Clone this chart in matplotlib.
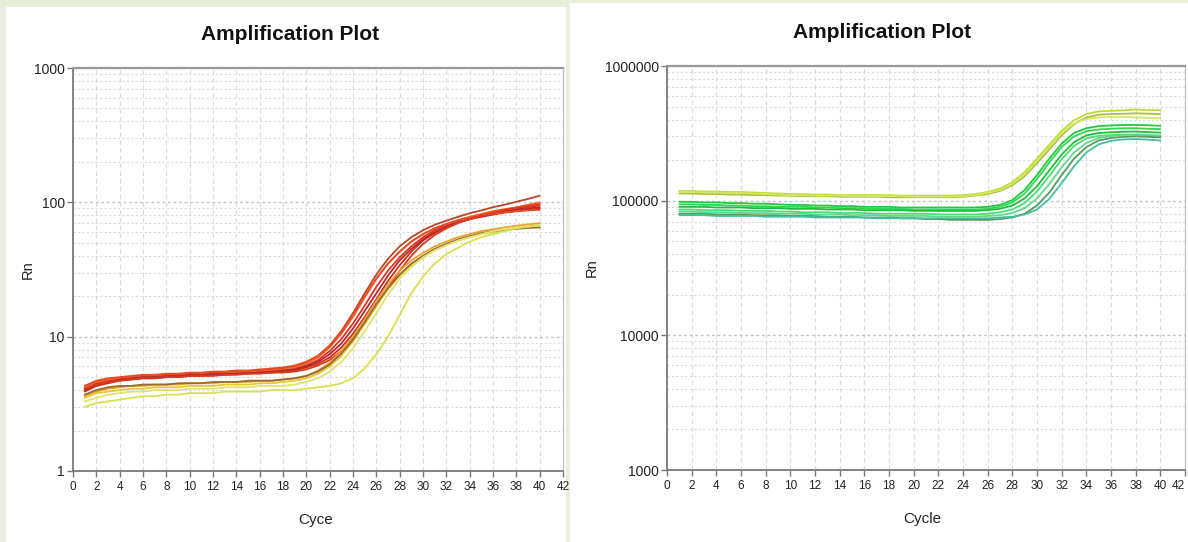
import matplotlib
matplotlib.use("Agg")
import matplotlib.pyplot as plt
from matplotlib.patches import Rectangle
from matplotlib.ticker import FixedLocator, NullFormatter, LogLocator

plt.rcParams['font.family'] = ['Liberation Sans', 'DejaVu Sans']

CYCLES = list(range(1, 41))

# ---------------- left panel (red / orange / yellow) ----------------
LEFT_COLORS = ['#b5462a', '#e03020', '#f06a28', '#d42a1c', '#b52a2a', '#e84a25',
               '#da3b1f', '#f0a030', '#e8c830', '#9a6a30', '#e0e46a', '#d8e050']
L1 = [4.3,4.6,4.8,4.9,5.0,5.1,5.1,5.2,5.2,5.3,5.3,5.4,5.4,5.5,5.5,5.6,5.7,5.8,6.0,6.4,7.2,8.6,11.0,15.0,21.0,29.0,38.0,47.0,55.0,62.0,68.0,73.0,78.0,83.0,87.0,92.0,96.0,101.0,106.0,112.0]
L2 = [4.1,4.5,4.7,4.8,4.9,5.0,5.0,5.1,5.1,5.2,5.2,5.3,5.3,5.4,5.4,5.5,5.5,5.6,5.8,6.1,6.7,7.8,9.6,12.5,17.0,23.5,31.0,39.0,47.0,55.0,62.0,68.0,73.0,77.0,80.0,83.0,86.0,89.0,92.0,95.0]
L3 = [4.2,4.6,4.8,4.9,5.0,5.0,5.1,5.1,5.2,5.2,5.3,5.3,5.4,5.4,5.5,5.5,5.6,5.7,5.9,6.3,7.0,8.3,10.5,14.0,19.5,27.0,35.0,43.0,51.0,58.0,64.0,69.0,74.0,78.0,82.0,86.0,89.0,92.0,96.0,100.0]
L4 = [3.9,4.3,4.5,4.7,4.8,4.9,4.9,5.0,5.0,5.1,5.1,5.2,5.2,5.3,5.3,5.4,5.4,5.5,5.6,5.9,6.3,7.0,8.3,10.5,14.0,19.0,26.0,34.0,43.0,52.0,59.0,66.0,71.0,75.0,78.0,81.0,84.0,86.0,88.0,90.0]
L5 = [4.0,4.4,4.6,4.8,4.9,5.0,5.0,5.1,5.1,5.2,5.2,5.3,5.3,5.3,5.4,5.4,5.5,5.6,5.7,6.0,6.5,7.4,8.9,11.5,15.5,21.0,28.5,37.0,45.0,53.0,60.0,66.0,71.0,75.0,79.0,82.0,85.0,88.0,90.0,92.0]
L6 = [4.3,4.7,4.9,5.0,5.1,5.2,5.2,5.3,5.3,5.4,5.4,5.5,5.5,5.6,5.6,5.7,5.8,5.9,6.1,6.5,7.2,8.5,10.8,14.5,20.0,27.0,35.0,43.0,51.0,58.0,64.0,69.0,73.0,77.0,80.0,82.0,84.0,86.0,87.0,88.0]
L7 = [4.1,4.4,4.6,4.7,4.8,4.9,4.9,5.0,5.0,5.1,5.1,5.1,5.2,5.2,5.3,5.3,5.4,5.4,5.5,5.7,6.1,6.7,7.8,9.6,12.5,17.0,23.0,31.0,40.0,49.0,57.0,64.0,70.0,75.0,80.0,84.0,88.0,91.0,94.0,97.0]
L8 = [3.6,3.9,4.1,4.2,4.3,4.3,4.4,4.4,4.4,4.5,4.5,4.5,4.6,4.6,4.6,4.7,4.7,4.8,4.9,5.1,5.6,6.4,7.8,10.0,13.5,18.5,24.5,31.0,37.0,42.0,47.0,51.0,55.0,58.0,61.0,63.0,65.0,67.0,68.5,70.0]
L9 = [3.5,3.8,3.9,4.0,4.1,4.1,4.2,4.2,4.2,4.3,4.3,4.3,4.4,4.4,4.4,4.5,4.5,4.6,4.7,4.9,5.3,6.0,7.2,9.2,12.5,17.0,22.5,28.5,34.0,39.0,44.0,48.0,52.0,55.0,58.0,60.0,62.0,64.0,65.0,66.0]
L10 = [3.7,4.0,4.2,4.3,4.3,4.4,4.4,4.4,4.5,4.5,4.5,4.6,4.6,4.6,4.7,4.7,4.7,4.8,4.9,5.1,5.5,6.2,7.5,9.5,12.8,17.5,23.0,29.0,35.0,40.0,45.0,49.0,53.0,56.0,59.0,61.0,62.5,63.5,64.5,65.0]
L11 = [3.3,3.5,3.7,3.8,3.9,3.9,4.0,4.0,4.0,4.1,4.1,4.1,4.2,4.2,4.2,4.3,4.3,4.3,4.4,4.6,4.9,5.5,6.5,8.2,11.0,15.0,20.5,27.0,33.0,39.0,44.0,48.0,52.0,55.0,58.0,61.0,63.0,65.0,66.0,67.0]
L12 = [3.0,3.2,3.3,3.4,3.5,3.6,3.6,3.7,3.7,3.8,3.8,3.8,3.9,3.9,3.9,3.9,4.0,4.0,4.0,4.1,4.2,4.3,4.5,4.9,5.8,7.4,10.0,14.5,21.0,28.0,35.0,41.0,46.0,51.0,55.0,58.0,61.0,64.0,66.0,68.0]
LEFT_SERIES = [L1, L2, L3, L4, L5, L6, L7, L8, L9, L10, L11, L12]

# ---------------- right panel (yellow-green / green / teal) ----------------
RIGHT_COLORS = ['#c5d83a', '#a8c03a', '#d0e860', '#22c840', '#30d850', '#1ebe3c',
                '#45e070', '#5a9a5a', '#40c0a0', '#60d890']
R1 = [118000,118000,117000,117000,116000,116000,115000,114000,113000,112000,112000,111000,111000,110000,110000,110000,110000,110000,109000,109000,109000,109000,109000,110000,112000,116000,123000,137000,163000,205000,260000,330000,395000,440000,460000,465000,468000,475000,470000,470000]
R2 = [113000,113000,112000,112000,111000,111000,110000,110000,109000,109000,108000,108000,108000,107000,107000,107000,107000,106000,106000,106000,106000,106000,106000,107000,109000,112000,118000,130000,152000,190000,240000,305000,370000,415000,435000,440000,442000,445000,443000,440000]
R3 = [116000,116000,115000,115000,114000,114000,113000,112000,111000,110000,110000,109000,109000,109000,108000,108000,108000,108000,108000,107000,107000,107000,107000,108000,110000,114000,120000,133000,157000,197000,250000,315000,375000,405000,415000,418000,420000,415000,412000,410000]
R4 = [98000,98000,97000,97000,96000,96000,95000,95000,94000,93000,93000,92000,92000,91000,91000,90000,90000,90000,89000,89000,89000,89000,89000,89000,89000,90000,93000,101000,120000,155000,205000,265000,318000,345000,358000,362000,365000,365000,363000,360000]
R5 = [94000,94000,93000,93000,92000,92000,91000,91000,90000,90000,90000,89000,89000,88000,88000,88000,87000,87000,87000,86000,86000,86000,86000,86000,86000,87000,90000,97000,113000,145000,192000,250000,300000,328000,338000,342000,345000,345000,342000,340000]
R6 = [90000,90000,90000,89000,89000,89000,88000,88000,88000,87000,87000,87000,86000,86000,86000,85000,85000,85000,85000,84000,84000,84000,84000,84000,84000,85000,87000,92000,104000,128000,168000,220000,272000,305000,318000,322000,325000,326000,323000,320000]
R7 = [86000,86000,85000,85000,85000,84000,84000,84000,83000,83000,82000,82000,82000,81000,81000,81000,80000,80000,80000,80000,80000,79000,79000,79000,79000,80000,82000,86000,96000,117000,153000,203000,255000,290000,303000,307000,310000,308000,304000,300000]
R8 = [80000,80000,80000,79000,79000,79000,78000,78000,78000,77000,77000,77000,76000,76000,76000,75000,75000,75000,74000,74000,73000,73000,72000,72000,72000,72000,73000,75000,80000,92000,115000,155000,205000,250000,280000,292000,298000,300000,298000,295000]
R9 = [78000,78000,78000,77000,77000,77000,77000,76000,76000,76000,76000,75000,75000,75000,75000,75000,74000,74000,74000,74000,74000,74000,74000,74000,74000,74000,75000,76000,79000,86000,103000,135000,180000,228000,262000,278000,285000,287000,284000,280000]
R10 = [83000,83000,82000,82000,82000,81000,81000,81000,80000,80000,80000,79000,79000,79000,78000,78000,78000,77000,77000,77000,77000,76000,76000,76000,76000,77000,78000,81000,88000,104000,133000,177000,228000,268000,292000,302000,308000,310000,308000,305000]
RIGHT_SERIES = [R1, R2, R3, R4, R5, R6, R7, R8, R9, R10]

TITLE = "Amplification Plot"
X_TICKS = list(range(0, 43, 2))

W, H = 1188, 542
fig = plt.figure(figsize=(W / 100, H / 100), dpi=100, facecolor='#e8f0dc')


def px_rect(x0, y0, x1, y1, color):
    fig.patches.append(Rectangle((x0 / W, 1 - y1 / H), (x1 - x0) / W, (y1 - y0) / H,
                                 transform=fig.transFigure, facecolor=color,
                                 edgecolor='none', zorder=-5))


px_rect(6, 7, 566, 542, 'white')
px_rect(570, 3, 1188, 542, 'white')


def make_axes(rect, series, colors, ylim, yticks, ylabels, xlabel, title_x, xl_x, yl_x):
    ax = fig.add_axes(rect)
    ax.set_facecolor('none')
    for s, c in zip(series, colors):
        ax.plot(CYCLES, s, color=c, lw=1.3, solid_capstyle='round', zorder=3)
    ax.set_yscale('log')
    ax.set_ylim(*ylim)
    ax.set_xlim(0, 42)
    ax.set_xticks(X_TICKS)
    ax.set_xticklabels([str(t) for t in X_TICKS])
    ax.yaxis.set_major_locator(FixedLocator(yticks))
    ax.set_yticklabels(ylabels)
    ax.yaxis.set_minor_locator(LogLocator(base=10, subs=range(2, 10)))
    ax.yaxis.set_minor_formatter(NullFormatter())
    ax.tick_params(axis='y', which='minor', length=0)
    ax.tick_params(axis='both', which='major', length=4, width=1, color='#777',
                   labelcolor='#222', pad=2)
    ax.tick_params(axis='x', labelsize=8.5, pad=3)
    ax.tick_params(axis='y', labelsize=10)
    ax.grid(True, axis='x', which='major', color='#dadada', lw=0.8, ls=(0, (4, 3)), zorder=1)
    ax.grid(True, axis='y', which='major', color='#c4c4c4', lw=1.0, ls=(0, (2, 2)), zorder=1)
    ax.grid(True, axis='y', which='minor', color='#dadada', lw=0.8, ls=(0, (2, 2)), zorder=1)
    for side in ('left', 'bottom'):
        ax.spines[side].set_color('#7a7a7a')
        ax.spines[side].set_linewidth(1.3)
    ax.spines['top'].set_color('#9a9a9a')
    ax.spines['top'].set_linewidth(1.6)
    ax.spines['right'].set_color('#c0c0c0')
    ax.spines['right'].set_linewidth(0.9)
    ax.text(title_x, 1.083, TITLE, transform=ax.transAxes, ha='center', va='center',
            fontsize=15, fontweight='bold', color='#111')
    ax.text(xl_x, -0.122, xlabel, transform=ax.transAxes, ha='center', va='center',
            fontsize=11, color='#222')
    ax.text(yl_x, 0.5, 'Rn', transform=ax.transAxes, ha='center', va='center',
            rotation=90, fontsize=10.5, color='#222')
    return ax


make_axes([73 / W, 1 - 471 / H, 490 / W, 403 / H], LEFT_SERIES, LEFT_COLORS,
          (1, 1000), [1, 10, 100, 1000], ['1', '10', '100', '1000'],
          'Cyce', 0.443, 0.496, -0.092)
ax_r = make_axes([667 / W, 1 - 470 / H, 518 / W, 404 / H], RIGHT_SERIES, RIGHT_COLORS,
                 (1000, 1000000), [1000, 10000, 100000, 1000000],
                 ['1000', '10000', '100000', '1000000'],
                 'Cycle', 0.415, 0.492, -0.145)
for lbl in ax_r.get_xticklabels():
    if lbl.get_text() == '42':
        lbl.set_horizontalalignment('right')

fig.savefig('out.png', dpi=100, facecolor=fig.get_facecolor())
